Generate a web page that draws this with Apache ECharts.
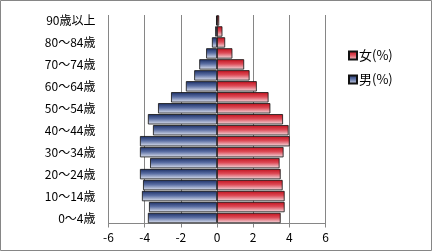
<!DOCTYPE html>
<html>
<head>
<meta charset="utf-8">
<script src="https://cdn.jsdelivr.net/npm/echarts@6/dist/echarts.min.js"></script>
<style>
html,body{margin:0;padding:0;background:#fff;}
#c{width:433px;height:252px;}
</style>
</head>
<body>
<div id="c"></div>
<script>
var categories = ['0〜4歳','5〜9歳','10〜14歳','15〜19歳','20〜24歳','25〜29歳','30〜34歳','35〜39歳','40〜44歳','45〜49歳','50〜54歳','55〜59歳','60〜64歳','65〜69歳','70〜74歳','75〜79歳','80〜84歳','85〜89歳','90歳以上'];
var maleValues = [-3.82, -3.76, -4.15, -4.09, -4.26, -3.70, -4.26, -4.26, -3.54, -3.82, -3.26, -2.54, -1.72, -1.26, -0.98, -0.60, -0.28, -0.10, -0.05];
var femaleValues = [3.52, 3.74, 3.74, 3.63, 3.52, 3.46, 3.68, 4.02, 3.96, 3.65, 2.95, 2.85, 2.20, 1.80, 1.50, 0.85, 0.45, 0.30, 0.12];
var xTicks = {min: -6, max: 6, interval: 2};
var maleName = '男(%)';
var femaleName = '女(%)';

var font = '"Noto Sans CJK JP", "Noto Sans", sans-serif';
var gray = '#868686';
var chart = echarts.init(document.getElementById('c'));
var blueGrad = new echarts.graphic.LinearGradient(0, 0, 0, 1, [
  {offset: 0, color: '#1a2d63'},
  {offset: 0.45, color: '#5a6ea3'},
  {offset: 1, color: '#e4e8f3'}
]);
var redGrad = new echarts.graphic.LinearGradient(0, 0, 0, 1, [
  {offset: 0, color: '#c0101c'},
  {offset: 0.45, color: '#dd4a56'},
  {offset: 1, color: '#f4e2e6'}
]);
chart.setOption({
  animation: false,
  graphic: [{
    type: 'rect', shape: {x: 0.5, y: 0.5, width: 431, height: 250},
    style: {fill: 'none', stroke: gray, lineWidth: 1}, silent: true, z: -10
  }],
  grid: {left: 108.5, right: 107.5, top: 15, bottom: 28.5, containLabel: false},
  legend: {
    data: [femaleName, maleName],
    orient: 'vertical',
    left: 343, top: 44,
    itemWidth: 8, itemHeight: 8, itemGap: 11,
    icon: 'rect',
    textStyle: {fontFamily: font, fontSize: 13, color: '#000', padding: [0, 0, 0, -3]}
  },
  xAxis: {
    type: 'value', min: xTicks.min, max: xTicks.max, interval: xTicks.interval,
    axisLine: {show: true, lineStyle: {color: gray, width: 1}},
    axisTick: {show: true, length: 4, lineStyle: {color: gray}},
    splitLine: {show: true, lineStyle: {color: gray, width: 1}},
    axisLabel: {fontFamily: font, fontSize: 12, color: '#000', margin: 8}
  },
  yAxis: {
    type: 'category', data: categories,
    axisLine: {show: false},
    axisTick: {show: false},
    axisLabel: {interval: 1, fontFamily: font, fontSize: 12, color: '#000', margin: 13}
  },
  series: [
    {
      name: maleName, type: 'bar', stack: 'pop', data: maleValues,
      barCategoryGap: '6%',
      itemStyle: {color: blueGrad, borderColor: '#111', borderWidth: 0.8}
    },
    {
      name: femaleName, type: 'bar', stack: 'pop', data: femaleValues,
      barCategoryGap: '6%',
      itemStyle: {color: redGrad, borderColor: '#111', borderWidth: 0.8}
    }
  ]
});
</script>
</body>
</html>
